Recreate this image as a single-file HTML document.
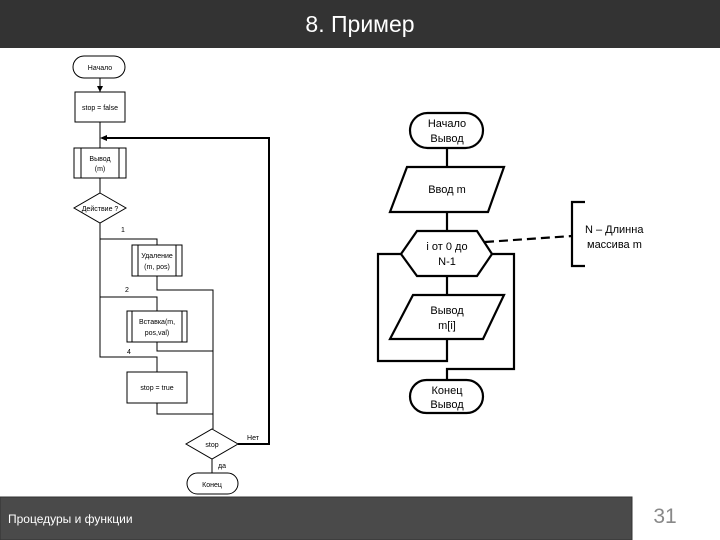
<!DOCTYPE html>
<html><head><meta charset="utf-8"><style>
html,body{margin:0;padding:0;background:#fff;width:720px;height:540px;overflow:hidden}
svg{display:block}
text{font-family:"Liberation Sans","Noto Sans CJK SC",sans-serif}
</style></head><body>
<svg width="720" height="540" viewBox="0 0 720 540" xmlns="http://www.w3.org/2000/svg">
<rect x="0" y="0" width="720" height="48" fill="#333"/>
<text x="360" y="32" font-size="23" fill="#fff" text-anchor="middle">8. Пример</text>
<rect x="0" y="497" width="632" height="43" fill="#4a4a4a" stroke="#333" stroke-width="1"/>
<text x="8" y="523" font-size="12" fill="#fff">Процедуры и функции</text>
<text x="665" y="523" font-size="21" fill="#888" text-anchor="middle">31</text>

<!-- left diagram -->
<g stroke="#000" stroke-width="1" fill="none">
<rect x="73" y="56" width="52" height="22" rx="11" fill="#fff"/>
<line x1="100" y1="78" x2="100" y2="92"/>
<rect x="75" y="92" width="50" height="30" fill="#fff"/>
<line x1="100" y1="122" x2="100" y2="148"/>
<rect x="74" y="148" width="52" height="30" fill="#fff"/>
<line x1="81" y1="148" x2="81" y2="178"/><line x1="119" y1="148" x2="119" y2="178"/>
<line x1="100" y1="178" x2="100" y2="193"/>
<polygon points="100,193 126,208 100,223 74,208" fill="#fff"/>
<polyline points="100,223 100,357 157,357 157,372"/>
<polyline points="100,239 157,239 157,245"/>
<rect x="132" y="245" width="50" height="31" fill="#fff"/>
<line x1="138" y1="245" x2="138" y2="276"/><line x1="176" y1="245" x2="176" y2="276"/>
<polyline points="157,276 157,290 213,290 213,429"/>
<polyline points="100,297 157,297 157,311"/>
<rect x="127" y="311" width="60" height="31" fill="#fff"/>
<line x1="132" y1="311" x2="132" y2="342"/><line x1="182" y1="311" x2="182" y2="342"/>
<polyline points="157,342 157,351 213,351"/>
<rect x="127" y="372" width="60" height="31" fill="#fff"/>
<polyline points="157,403 157,414 213,414"/>
<polygon points="212,429 238,444 212,459 186,444" fill="#fff"/>
<line x1="212" y1="459" x2="212" y2="473"/>
<rect x="187" y="473" width="51" height="21" rx="10.5" fill="#fff"/>
<polyline points="238,444 269,444 269,138 104,138" stroke-width="2"/>
</g>
<polygon points="100,138 107,135 107,141" fill="#000"/>
<polygon points="100,92 97,86 103,86" fill="#000"/>
<g font-size="7" fill="#000" text-anchor="middle">
<text x="100" y="70">Начало</text>
<text x="100" y="110">stop = false</text>
<text x="100" y="161">Вывод</text><text x="100" y="171">(m)</text>
<text x="100" y="211">Действие ?</text>
<text x="123" y="232">1</text>
<text x="157" y="258">Удаление</text><text x="157" y="269">(m, pos)</text>
<text x="127" y="292">2</text>
<text x="157" y="324">Вставка(m,</text><text x="157" y="335">pos,val)</text>
<text x="129" y="354">4</text>
<text x="157" y="390">stop = true</text>
<text x="212" y="447">stop</text>
<text x="253" y="440">Нет</text>
<text x="222" y="468">да</text>
<text x="212" y="487">Конец</text>
</g>

<!-- right diagram -->
<g stroke="#000" stroke-width="2.2" fill="none">
<rect x="410" y="113" width="73" height="35" rx="17.5" fill="#fff"/>
<line x1="447" y1="148" x2="447" y2="167"/>
<polygon points="407,167 504,167 488,212 390,212" fill="#fff"/>
<line x1="447" y1="212" x2="447" y2="231"/>
<polygon points="401,254 417,231 477,231 492,254 477,276 417,276" fill="#fff"/>
<line x1="447" y1="276" x2="447" y2="295"/>
<polygon points="413,295 504,295 483,339 390,339" fill="#fff"/>
<polyline points="447,339 447,361 378,361 378,254 401,254"/>
<polyline points="492,254 514,254 514,369 447,369 447,380"/>
<rect x="410" y="380" width="73" height="33" rx="16.5" fill="#fff"/>
<line x1="485" y1="242" x2="572" y2="236" stroke-dasharray="9,5"/>
<polyline points="585,202 572,202 572,266 585,266"/>
</g>
<g font-size="11" fill="#000" text-anchor="middle">
<text x="447" y="127">Начало</text><text x="447" y="142">Вывод</text>
<text x="447" y="193">Ввод m</text>
<text x="447" y="250">i от 0 до</text><text x="447" y="265">N-1</text>
<text x="447" y="314">Вывод</text><text x="447" y="329">m[i]</text>
<text x="447" y="394">Конец</text><text x="447" y="408">Вывод</text>
</g>
<g font-size="11" fill="#000">
<text x="585" y="233">N – Длинна</text>
<text x="587" y="248">массива m</text>
</g>
</svg>
</body></html>
